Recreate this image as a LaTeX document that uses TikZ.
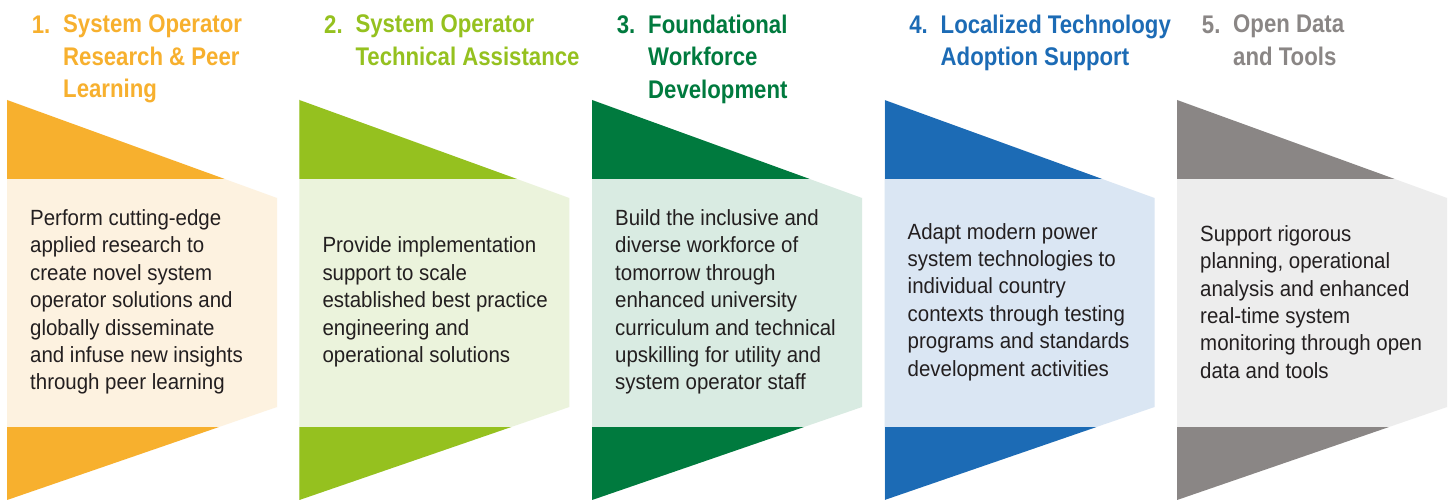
\documentclass[tikz,border=0pt]{standalone}
\usepackage{fontspec}
\setmainfont{Liberation Sans}
\newfontfamily\ttlfont[FakeStretch=0.87]{Liberation Sans}
\newfontfamily\bdyfont[FakeStretch=0.93]{Liberation Sans}
\definecolor{cOne}{HTML}{F7B02E}
\definecolor{cOneL}{HTML}{FDF2E0}
\definecolor{cTwo}{HTML}{95C11F}
\definecolor{cTwoL}{HTML}{EBF3DC}
\definecolor{cThree}{HTML}{007A3E}
\definecolor{cThreeL}{HTML}{D9EBE2}
\definecolor{cFour}{HTML}{1C6BB5}
\definecolor{cFourL}{HTML}{DAE6F3}
\definecolor{cFive}{HTML}{8A8685}
\definecolor{cFiveL}{HTML}{EDEDED}
\definecolor{bodytext}{HTML}{231F20}
\newcommand\drawchev[3]{%
  \fill[#3] (#1,100) -- (#1+270,198) -- (#1+270,407) -- (#1,500) -- cycle;
  \begin{scope}
    \clip (#1,100) -- (#1+270,198) -- (#1+270,407) -- (#1,500) -- cycle;
    \fill[#2] (#1,90) rectangle (#1+280,179.3);
    \fill[#2] (#1,426.7) rectangle (#1+280,510);
  \end{scope}}
\tikzset{
  ttlnum/.style={anchor=base west, inner sep=0pt,
    font=\ttlfont\bfseries\fontsize{25.5}{32.5}\selectfont},
  ttl/.style={anchor=north west, inner sep=0pt, align=left,
    font=\ttlfont\bfseries\fontsize{25.5}{32.5}\selectfont},
  bodytxt/.style={anchor=west, inner sep=0pt, align=left, text=bodytext,
    font=\bdyfont\fontsize{22}{27.4}\selectfont},
}
\begin{document}
\begin{tikzpicture}[x=1pt,y=-1pt]
\useasboundingbox[fill=white] (0,0) rectangle (1448,500);
\drawchev{7}{cOne}{cOneL}
\drawchev{299.3}{cTwo}{cTwoL}
\drawchev{592}{cThree}{cThreeL}
\drawchev{884.5}{cFour}{cFourL}
\drawchev{1177}{cFive}{cFiveL}

\node[ttlnum, text=cOne] (n1) at (31.7,33.3) {1.};
\node[ttl, text=cOne] (t1) at (63,14.7) {System Operator\\Research \& Peer\\Learning};
\node[ttlnum, text=cTwo] (n2) at (324,33.3) {2.};
\node[ttl, text=cTwo] (t2) at (355.3,14.7) {System Operator\\Technical Assistance};
\node[ttlnum, text=cThree] (n3) at (616.7,33.3) {3.};
\node[ttl, text=cThree] (t3) at (648,14.7) {Foundational\\Workforce\\Development};
\node[ttlnum, text=cFour] (n4) at (909.2,33.3) {4.};
\node[ttl, text=cFour] (t4) at (940.5,14.7) {Localized Technology\\Adoption Support};
\node[ttlnum, text=cFive] (n5) at (1201.7,33.3) {5.};
\node[ttl, text=cFive] (t5) at (1233,14.7) {Open Data\\and Tools};

\node[bodytxt] (b1) at (30,302) {Perform cutting-edge\\applied research to\\create novel system\\operator solutions and\\globally disseminate\\and infuse new insights\\through peer learning};
\node[bodytxt] (b2) at (322.3,302) {Provide implementation\\support to scale\\established best practice\\engineering and\\operational solutions};
\node[bodytxt] (b3) at (615,302) {Build the inclusive and\\diverse workforce of\\tomorrow through\\enhanced university\\curriculum and technical\\upskilling for utility and\\system operator staff};
\node[bodytxt] (b4) at (907.5,302) {Adapt modern power\\system technologies to\\individual country\\contexts through testing\\programs and standards\\development activities};
\node[bodytxt] (b5) at (1200,302) {Support rigorous\\planning, operational\\analysis and enhanced\\real-time system\\monitoring through open\\data and tools};
\end{tikzpicture}
\end{document}
